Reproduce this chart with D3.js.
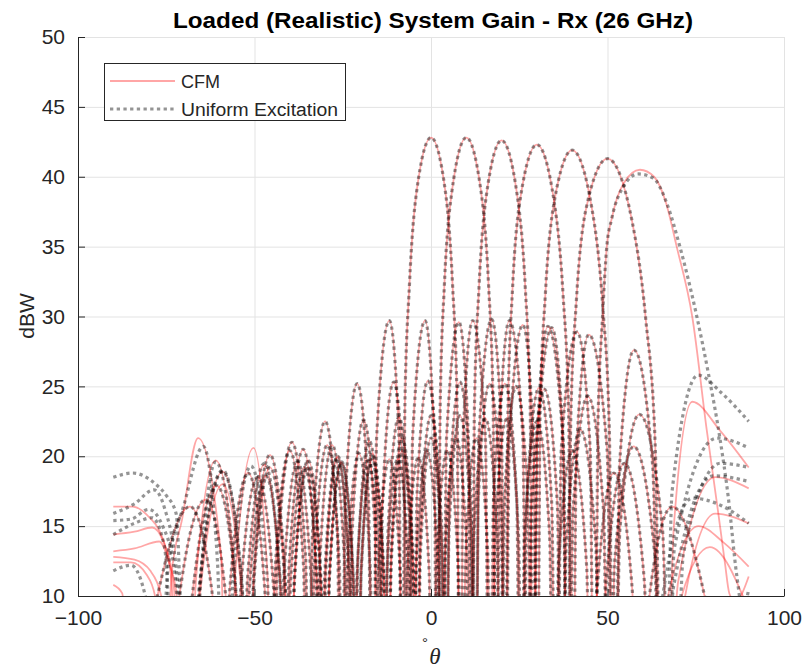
<!DOCTYPE html>
<html lang="en">
<head>
    <meta charset="UTF-8">
    <title>Loaded (Realistic) System Gain - Rx (26 GHz)</title>
    <script src="https://d3js.org/d3.v7.min.js"></script>
    <style>
        body { margin: 0; background: #fff; }
        text { font-family: "Liberation Sans", Arial, Helvetica, sans-serif; fill: #262626; }
    </style>
</head>
<body>
    <svg width="805" height="668"></svg>

    <script>
        // axis ticks
        const thetaTicks = [-100, -50, 0, 50, 100];
        const gainTicks = [10, 15, 20, 25, 30, 35, 40, 45, 50];

        // [theta (deg), gain (dBW)]; -10 marks a null below the axis
        // beam steered to 0 deg (both excitations overlap)
        const beam0 = [[-90,-10],[-79.1,8.1],[-68.3,16.4],[-61.0,8.1],[-59.0,-10],[-57.0,10.5],[-51.8,18.8],[-47.1,10.5],[-45.6,-10],[-44.1,12.1],[-40.0,20.4],[-36.1,12.1],[-34.9,-10],[-33.6,14.3],[-30.0,22.5],[-26.5,14.3],[-25.4,-10],[-24.3,16.9],[-20.9,25.2],[-17.7,16.9],[-16.6,-10],[-15.4,21.4],[-11.8,29.7],[-9.1,21.4],[-8.2,-10],[-7.4,23.6],[-6.1,32.3],[-4.1,38.9],[0,42.8],[4.1,38.9],[6.1,32.3],[7.4,23.6],[8.2,-10],[9.1,21.4],[11.8,29.7],[15.4,21.4],[16.6,-10],[17.7,16.9],[20.9,25.2],[24.3,16.9],[25.4,-10],[26.5,14.3],[30.0,22.5],[33.6,14.3],[34.9,-10],[36.1,12.1],[40.0,20.4],[44.1,12.1],[45.6,-10],[47.1,10.5],[51.8,18.8],[57.0,10.5],[59.0,-10],[61.0,8.1],[68.3,16.4],[79.1,8.1],[90,-10]];

        // beam steered to 10 deg
        const beam10Core = [[-75.8,-10],[-72.0,8.6],[-63.8,16.9],[-57.6,8.6],[-55.7,-10],[-54.0,10.2],[-49.1,18.5],[-44.5,10.2],[-43.1,-10],[-41.7,11.3],[-37.8,19.6],[-34.0,11.3],[-32.7,-10],[-31.5,12.5],[-28.0,20.8],[-24.5,12.5],[-23.4,-10],[-22.4,14.3],[-19.1,22.6],[-15.8,14.3],[-14.8,-10],[-13.7,17.0],[-10.6,25.3],[-7.5,17.0],[-6.4,-10],[-5.2,21.4],[-1.7,29.7],[0.9,21.4],[1.8,-10],[2.6,23.6],[3.8,32.3],[5.9,38.9],[10.0,42.8],[14.2,38.9],[16.3,32.3],[17.6,23.6],[18.5,-10],[19.4,21.4],[22.2,29.7],[26.0,21.4],[27.3,-10],[28.5,16.5],[32.1,24.8],[35.8,16.5],[37.0,-10],[38.3,13.6],[42.3,21.9],[46.7,13.6],[48.2,-10],[49.7,11.2],[54.8,19.5],[60.4,11.2],[62.6,-10]];
        const beam10UniLeft = [[-90,11.8],[-85,12.2],[-80.5,9.5]];
        const beam10CfmLeft = [[-90,12.4],[-85,12.4],[-80.5,11.5],[-77.8,9.5]];
        const beam10UniRight = [[64.9,8.7],[74.0,17.0],[82.0,16.5],[90,15.2]];
        const beam10CfmRight = [[65.2,7.5],[75.8,15.0],[83.0,13.8],[90,12.1]];

        // beam steered to 20 deg
        const beam20Core = [[-70.7,-10],[-67.8,9.6],[-60.7,17.9],[-55.0,9.6],[-53.2,-10],[-51.5,10.3],[-46.8,18.6],[-42.5,10.3],[-41.2,-10],[-39.8,10.9],[-35.9,19.2],[-32.2,10.9],[-31.0,-10],[-29.8,11.7],[-26.4,20.0],[-23.0,11.7],[-21.9,-10],[-20.7,12.8],[-17.5,21.1],[-14.3,12.8],[-13.3,-10],[-12.2,14.5],[-9.1,22.8],[-6.0,14.5],[-5.0,-10],[-4.0,17.1],[-0.9,25.4],[2.2,17.1],[3.2,-10],[4.4,21.3],[7.9,29.6],[10.6,21.3],[11.5,-10],[12.3,23.4],[13.6,32.1],[15.7,38.7],[20.0,42.6],[24.4,38.7],[26.7,32.1],[28.1,23.4],[29.0,-10],[30.0,21.0],[33.1,29.3],[37.4,21.0],[38.9,-10],[40.2,16.0],[44.4,24.3],[48.9,16.0],[50.4,-10],[52.0,12.4],[57.4,20.7],[63.6,12.4],[66.0,-10]];
        const beam20UniLeft = [[-90,14.4],[-84,15.2],[-79,15.6],[-75.5,13.5]];
        const beam20CfmLeft = [[-90,12.8],[-84,12.6],[-79.5,11.8],[-76,9.5]];
        const beam20UniRight = [[68.6,10.5],[80.0,18.6],[90,18.2]];
        const beam20CfmRight = [[69.0,8.0],[79.0,13.5],[90,9.0]];

        // beam steered to 30 deg
        const beam30Core = [[-68.2,-10],[-65.6,10.6],[-59.0,18.9],[-53.5,10.6],[-51.8,-10],[-50.2,10.9],[-45.6,19.2],[-41.4,10.9],[-40.0,-10],[-38.7,10.9],[-34.9,19.2],[-31.2,10.9],[-30.0,-10],[-28.8,11.2],[-25.4,19.5],[-22.0,11.2],[-20.9,-10],[-19.8,11.9],[-16.6,20.2],[-13.4,11.9],[-12.4,-10],[-11.3,13.0],[-8.2,21.3],[-5.1,13.0],[-4.1,-10],[-3.1,14.6],[0.0,22.9],[3.1,14.6],[4.1,-10],[5.1,17.0],[8.2,25.3],[11.3,17.0],[12.4,-10],[13.6,21.5],[17.2,29.8],[20.0,21.5],[20.9,-10],[21.8,23.3],[23.1,32.0],[25.4,38.6],[30.0,42.3],[34.9,38.2],[37.4,31.6],[39.0,22.9],[40.0,-10],[41.2,20.4],[44.7,28.7],[49.9,20.4],[51.8,-10],[53.5,14.7],[59.0,23.0],[65.6,14.7],[68.2,-10]];
        const beam30UniLeft = [[-90,15.4],[-85,15.5],[-80,16.2],[-76,15.0],[-72.5,11.5]];
        const beam30CfmLeft = [[-90,13.2],[-84,13.4],[-77,13.9],[-74,12.2],[-72,10.0]];
        const beam30UniRight = [[71.5,13.0],[82.0,19.5],[90,19.2]];
        const beam30CfmRight = [[72.0,10.0],[80.5,15.9],[90,15.2]];

        // beam steered to 40 deg
        const beam40Core = [[-51.8,-10],[-50.2,11.8],[-45.6,20.1],[-41.4,11.8],[-40.0,-10],[-38.7,11.4],[-34.8,19.7],[-31.2,11.4],[-30.0,-10],[-28.8,11.3],[-25.3,19.6],[-22.0,11.3],[-20.9,-10],[-19.8,11.5],[-16.6,19.8],[-13.4,11.5],[-12.4,-10],[-11.3,12.1],[-8.2,20.4],[-5.1,12.1],[-4.1,-10],[-3.0,13.0],[0.0,21.3],[3.1,13.0],[4.1,-10],[5.1,14.6],[8.2,22.9],[11.4,14.6],[12.4,-10],[13.4,16.9],[16.6,25.2],[19.8,16.9],[20.9,-10],[22.2,21.1],[26.0,29.4],[29.0,21.1],[30.0,-10],[30.9,22.9],[32.4,31.6],[34.9,38.2],[40.0,41.9],[45.6,37.7],[48.6,30.9],[50.5,22.1],[51.8,-10],[53.4,19.3],[57.5,27.6],[62.8,19.3],[65.5,-10]];
        const beam40UniLeft = [[-90,15.9],[-84,16.6],[-78.5,17.6],[-75.5,16.3],[-72,11.5],[-68.2,-10],[-65.6,10.7],[-59.0,19.0],[-53.5,10.7]];
        const beam40CfmLeft = [[-90,14.4],[-84,14.6],[-79,14.9],[-76,14.0],[-73,11.0],[-68.2,-10],[-65.6,9.7],[-59.0,18.0],[-53.5,9.7]];
        const beam40UniRight = [[69.0,13.5],[81.0,21.3],[90,20.6]];
        const beam40CfmRight = [[70.0,11.0],[80.5,18.5],[90,17.7]];

        // beam steered to 50 deg
        const beam50Core = [[-41.5,-10],[-40.2,12.2],[-36.2,20.5],[-32.6,12.2],[-31.3,-10],[-30.1,11.6],[-26.6,19.9],[-23.3,11.6],[-22.2,-10],[-21.0,11.4],[-17.8,19.7],[-14.6,11.4],[-13.5,-10],[-12.5,11.5],[-9.4,19.8],[-6.3,11.5],[-5.2,-10],[-4.2,12.1],[-1.2,20.4],[2.0,12.1],[3.0,-10],[4.0,13.0],[7.1,21.3],[10.2,13.0],[11.2,-10],[12.2,14.4],[15.4,22.7],[18.7,14.4],[19.7,-10],[20.8,16.7],[24.1,25.0],[27.5,16.7],[28.7,-10],[30.1,20.9],[34.2,29.2],[37.5,20.9],[38.5,-10],[39.6,22.6],[41.2,31.2],[44.0,37.8],[50.0,41.3],[56.9,36.9],[60.8,29.9],[63.5,20.9],[65.8,-10]];
        const beam50UniLeft = [[-90,18.5],[-84.5,18.8],[-78,18.0],[-75,17.2],[-72.2,15.9],[-68.5,-10],[-65.2,11.3],[-61.0,19.6],[-55.5,11.3],[-53.7,-10],[-52.0,11.2],[-47.2,19.5],[-42.8,11.2]];
        const beam50CfmLeft = [[-90,16.4],[-84.5,16.4],[-79.7,15.6],[-77,14.7],[-75,13.3],[-73.5,11.0],[-70.5,-10],[-66.5,11.4],[-61.0,19.7],[-55.5,11.4],[-53.7,-10],[-52.0,11.1],[-47.2,19.4],[-42.8,11.1]];
        const beam50UniRight = [[68.3,17.5],[75.7,25.8],[82.0,24.6],[90,22.5]];
        const beam50CfmRight = [[68.8,15.0],[74.0,23.9],[82.0,21.8],[90,19.2]];

        // beam steered to 60 deg
        const beam60Core = [[-44.8,-10],[-43.5,12.7],[-39.4,21.0],[-35.5,12.7],[-34.3,-10],[-33.0,12.5],[-29.4,20.8],[-26.0,12.5],[-24.8,-10],[-23.7,11.9],[-20.4,20.2],[-17.2,11.9],[-16.1,-10],[-15.0,11.5],[-11.8,19.8],[-8.7,11.5],[-7.7,-10],[-6.7,11.6],[-3.6,19.9],[-0.5,11.6],[0.5,-10],[1.6,12.1],[4.6,20.4],[7.7,12.1],[8.7,-10],[9.8,13.0],[12.9,21.3],[16.1,13.0],[17.1,-10],[18.2,14.4],[21.5,22.7],[24.8,14.4],[25.9,-10],[27.1,16.6],[30.6,24.9],[34.2,16.6],[35.5,-10],[36.9,20.5],[41.4,28.9],[45.1,20.5],[46.3,-10],[47.3,22.3],[48.6,30.0],[49.8,35.0],[51.2,37.0]];
        const beam60UniLeft = [[-90,-10],[-78.5,-10],[-74.5,12.0],[-70.0,16.5],[-64.5,20.7],[-60.5,12.5],[-58.0,-10],[-56.1,11.0],[-51.0,19.3],[-46.3,11.0]];
        const beam60CfmLeft = [[-90,10.8],[-87.5,10.2],[-83,-10],[-76.5,-10],[-73.5,11.5],[-70.5,15.5],[-66,21.3],[-59.5,13.0],[-57.5,-10],[-55.5,11.4],[-50.3,20.6],[-46.3,11.4]];
        const beam60UniRight = [[54.5,39.3],[58.7,40.2],[63.0,39.9],[66.8,38.1],[70.5,35.0],[75.3,30.0],[78.6,25.9],[81.9,21.2],[84.2,17.1],[86.6,11.5],[88.3,9.0],[90,10.5]];
        const beam60CfmRight = [[54.5,39.5],[59.2,40.5],[63.2,40.0],[66.5,38.2],[69.6,35.0],[74.0,30.0],[78.1,21.9],[81.4,15.9],[83.3,12.3],[84.5,10.2],[86.5,9.5],[88.5,10.4],[90,11.4]];

        const cfmSeries = [
            beam0,
            [...beam10CfmLeft, ...beam10Core, ...beam10CfmRight],
            [...beam20CfmLeft, ...beam20Core, ...beam20CfmRight],
            [...beam30CfmLeft, ...beam30Core, ...beam30CfmRight],
            [...beam40CfmLeft, ...beam40Core, ...beam40CfmRight],
            [...beam50CfmLeft, ...beam50Core, ...beam50CfmRight],
            [...beam60CfmLeft, ...beam60Core, ...beam60CfmRight]
        ];
        const uniformSeries = [
            beam0,
            [...beam10UniLeft, ...beam10Core, ...beam10UniRight],
            [...beam20UniLeft, ...beam20Core, ...beam20UniRight],
            [...beam30UniLeft, ...beam30Core, ...beam30UniRight],
            [...beam40UniLeft, ...beam40Core, ...beam40UniRight],
            [...beam50UniLeft, ...beam50Core, ...beam50UniRight],
            [...beam60UniLeft, ...beam60Core, ...beam60UniRight]
        ];

        const svg = d3.select('svg');
        const x = d3.scaleLinear().domain([-100, 100]).range([78, 784]);
        const y = d3.scaleLinear().domain([10, 50]).range([596, 37]);

        svg.append('defs').append('clipPath').attr('id', 'plot-clip')
            .append('rect')
            .attr('x', x(-100)).attr('y', y(50))
            .attr('width', x(100) - x(-100)).attr('height', y(10) - y(50));

        // grid
        const grid = svg.append('g').attr('stroke', '#e3e3e3').attr('stroke-width', 1);
        grid.selectAll('.gx').data(thetaTicks).join('line')
            .attr('x1', d => x(d) + 0.5).attr('x2', d => x(d) + 0.5)
            .attr('y1', y(50)).attr('y2', y(10));
        grid.selectAll('.gy').data(gainTicks).join('line')
            .attr('x1', x(-100)).attr('x2', x(100))
            .attr('y1', d => y(d) + 0.5).attr('y2', d => y(d) + 0.5);

        const line = d3.line()
            .x(d => x(d[0]))
            .y(d => y(d[1]))
            .curve(d3.curveMonotoneX);

        const plot = svg.append('g').attr('clip-path', 'url(#plot-clip)');

        plot.selectAll('.cfm').data(cfmSeries).join('path')
            .attr('class', 'cfm')
            .attr('d', line)
            .attr('fill', 'none')
            .attr('stroke', '#ff0000')
            .attr('stroke-opacity', 0.35)
            .attr('stroke-width', 1.8);

        plot.selectAll('.uni').data(uniformSeries).join('path')
            .attr('class', 'uni')
            .attr('d', line)
            .attr('fill', 'none')
            .attr('stroke', '#000')
            .attr('stroke-opacity', 0.42)
            .attr('stroke-width', 3.2)
            .attr('stroke-dasharray', '3.3,3.4');

        // axes
        const xAxis = svg.append('g')
            .attr('transform', `translate(0,${y(10)})`)
            .call(d3.axisBottom(x).tickValues(thetaTicks).tickSizeInner(-7).tickSizeOuter(0).tickPadding(14));
        const yAxis = svg.append('g')
            .attr('transform', `translate(${x(-100)},0)`)
            .call(d3.axisLeft(y).tickValues(gainTicks).tickSizeInner(-7).tickSizeOuter(0).tickPadding(13));

        [xAxis, yAxis].forEach(a => {
            a.select('.domain').attr('stroke', '#262626');
            a.selectAll('.tick line').attr('stroke', '#262626');
            a.selectAll('.tick text')
                .attr('fill', '#262626')
                .style('font-size', '21px')
                .style('font-family', '"Liberation Sans", Arial, sans-serif');
        });

        // title and labels
        svg.append('text')
            .attr('x', 433).attr('y', 28)
            .attr('text-anchor', 'middle')
            .attr('textLength', 520)
            .attr('lengthAdjust', 'spacingAndGlyphs')
            .style('font-size', '22px')
            .style('font-weight', 'bold')
            .style('fill', '#000')
            .text('Loaded (Realistic) System Gain - Rx (26 GHz)');

        svg.append('text')
            .attr('transform', 'translate(34,316) rotate(-90)')
            .attr('text-anchor', 'middle')
            .style('font-size', '21px')
            .text('dBW');

        svg.append('text')
            .attr('x', 425).attr('y', 648)
            .attr('text-anchor', 'middle')
            .style('font-size', '15px')
            .text('°');
        svg.append('text')
            .attr('x', 435).attr('y', 664)
            .attr('text-anchor', 'middle')
            .style('font-size', '23px')
            .style('font-style', 'italic')
            .style('font-family', '"Liberation Serif", "DejaVu Serif", serif')
            .text('θ');

        // legend
        const legend = svg.append('g');
        legend.append('rect')
            .attr('x', 104.5).attr('y', 63.5)
            .attr('width', 241).attr('height', 57)
            .attr('fill', '#fff')
            .attr('stroke', '#262626')
            .attr('stroke-width', 1);
        legend.append('line')
            .attr('x1', 110).attr('x2', 175).attr('y1', 81).attr('y2', 81)
            .attr('stroke', '#ff0000').attr('stroke-opacity', 0.35).attr('stroke-width', 1.8);
        legend.append('line')
            .attr('x1', 110).attr('x2', 175).attr('y1', 109).attr('y2', 109)
            .attr('stroke', '#000').attr('stroke-opacity', 0.42).attr('stroke-width', 3.2)
            .attr('stroke-dasharray', '3.3,3.4');
        legend.append('text')
            .attr('x', 181).attr('y', 87.5)
            .style('font-size', '18px')
            .text('CFM');
        legend.append('text')
            .attr('x', 181).attr('y', 115.5)
            .attr('textLength', 157)
            .attr('lengthAdjust', 'spacingAndGlyphs')
            .style('font-size', '18px')
            .text('Uniform Excitation');
    </script>
</body>
</html>
